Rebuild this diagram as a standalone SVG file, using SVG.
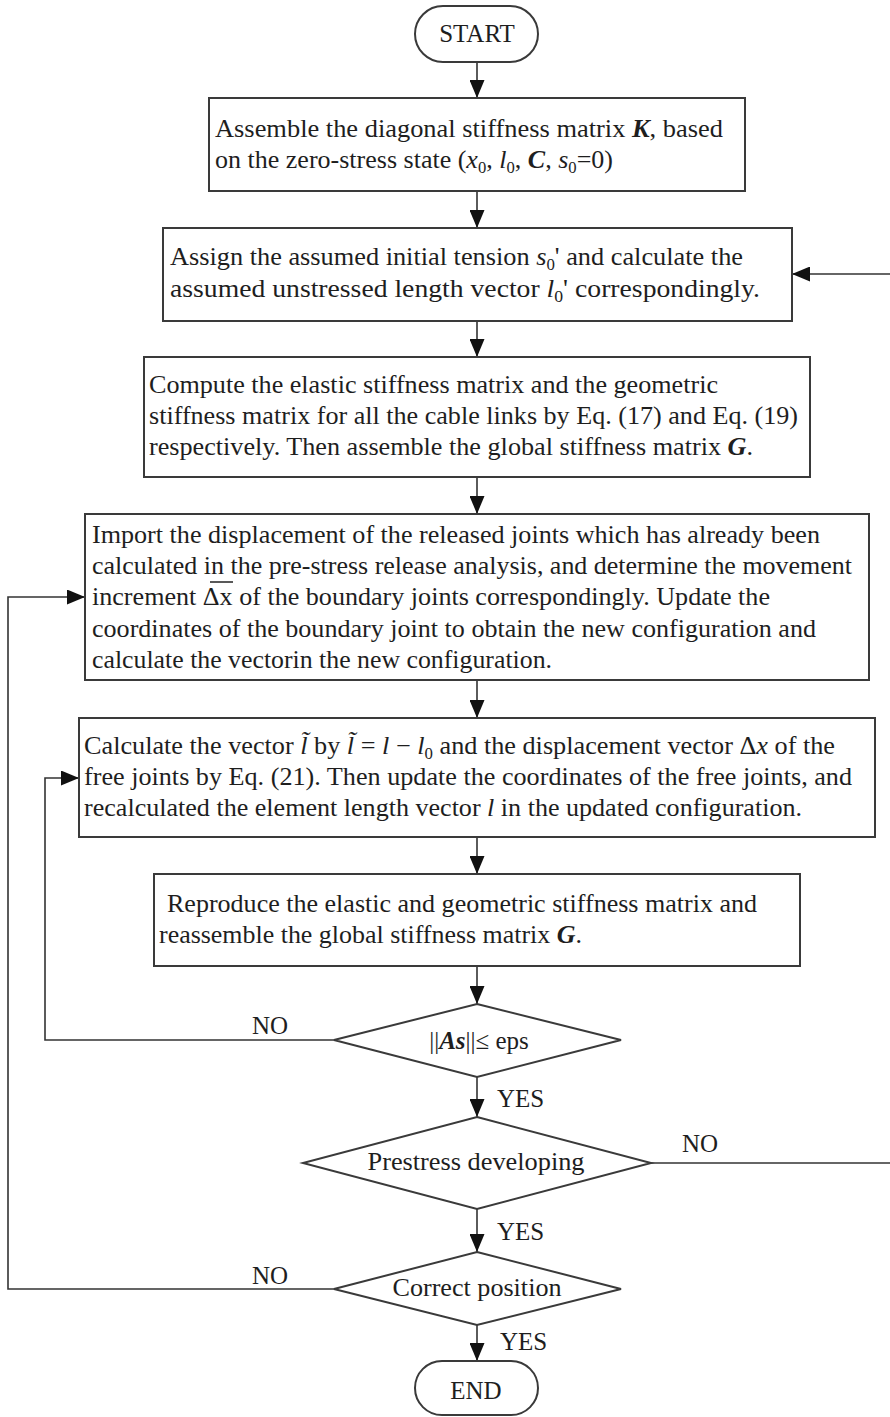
<svg xmlns="http://www.w3.org/2000/svg" width="890" height="1417" viewBox="0 0 890 1417">
<style>
.t{font-family:"Liberation Serif","Times New Roman",serif;font-size:25px;fill:#1e1e1e}
.c{text-anchor:middle}
.i{font-style:italic}
.bi{font-style:italic;font-weight:bold}
.sub{font-size:16px}
.box{fill:#fff;stroke:#3a3a3a;stroke-width:2}
.conn{fill:none;stroke:#333;stroke-width:1.6}
</style>
<defs>
<marker id="arr" markerUnits="userSpaceOnUse" viewBox="0 0 18 15" refX="18" refY="7.5" markerWidth="18" markerHeight="15" orient="auto">
<path d="M0 0 L18 7.5 L0 15 Z" fill="#111"/>
</marker>
</defs>
<rect width="890" height="1417" fill="#fff"/>

<g id="connectors">
<path class="conn" d="M477 62 V98" marker-end="url(#arr)"/>
<path class="conn" d="M477 191 V228" marker-end="url(#arr)"/>
<path class="conn" d="M477 321 V357" marker-end="url(#arr)"/>
<path class="conn" d="M477 477 V514" marker-end="url(#arr)"/>
<path class="conn" d="M477 680 V718" marker-end="url(#arr)"/>
<path class="conn" d="M477 837 V874" marker-end="url(#arr)"/>
<path class="conn" d="M477 966 V1004" marker-end="url(#arr)"/>
<path class="conn" d="M477 1077 V1117" marker-end="url(#arr)"/>
<path class="conn" d="M477 1209 V1252" marker-end="url(#arr)"/>
<path class="conn" d="M477 1325 V1361" marker-end="url(#arr)"/>
<path class="conn" d="M334 1040 H45 V778 H79" marker-end="url(#arr)"/>
<path class="conn" d="M334 1289 H8 V597 H85" marker-end="url(#arr)"/>
<path class="conn" d="M651 1163 H890"/>
<path class="conn" d="M890 274 H792" marker-end="url(#arr)"/>
<text class="t" x="252" y="1034">NO</text>
<text class="t" x="682" y="1152">NO</text>
<text class="t" x="252" y="1284">NO</text>
<text class="t" x="497" y="1107">YES</text>
<text class="t" x="497" y="1240">YES</text>
<text class="t" x="500" y="1350">YES</text>
</g>

<g id="start">
<rect class="box" x="415" y="6" width="123" height="56" rx="28"/>
<text class="t c" x="477" y="42">START</text>
</g>

<g id="box1">
<rect class="box" x="209" y="98" width="536" height="93"/>
<text class="t" x="215" y="137" textLength="508" lengthAdjust="spacingAndGlyphs">Assemble the diagonal stiffness matrix  <tspan class="bi">K</tspan>, based</text>
<text class="t" x="215" y="168" textLength="398" lengthAdjust="spacingAndGlyphs">on the zero-stress state (<tspan class="i">x</tspan><tspan class="sub" dy="5">0</tspan><tspan dy="-5">, </tspan><tspan class="i">l</tspan><tspan class="sub" dy="5">0</tspan><tspan dy="-5">, </tspan><tspan class="bi">C</tspan>, <tspan class="i">s</tspan><tspan class="sub" dy="5">0</tspan><tspan dy="-5">=0)</tspan></text>
</g>

<g id="box2">
<rect class="box" x="163" y="228" width="629" height="93"/>
<text class="t" x="170" y="265" textLength="573" lengthAdjust="spacingAndGlyphs">Assign the assumed initial tension <tspan class="i">s</tspan><tspan class="sub" dy="5">0</tspan><tspan dy="-5">' and calculate the</tspan></text>
<text class="t" x="170" y="297" textLength="590" lengthAdjust="spacingAndGlyphs">assumed unstressed length vector  <tspan class="i">l</tspan><tspan class="sub" dy="5">0</tspan><tspan dy="-5">' correspondingly.</tspan></text>
</g>

<g id="box3">
<rect class="box" x="144" y="357" width="666" height="120"/>
<text class="t" x="149" y="393" textLength="569" lengthAdjust="spacingAndGlyphs">Compute the elastic stiffness matrix and the geometric</text>
<text class="t" x="149" y="424" textLength="649" lengthAdjust="spacingAndGlyphs">stiffness matrix for all the cable links by Eq. (17) and Eq. (19)</text>
<text class="t" x="149" y="455" textLength="604" lengthAdjust="spacingAndGlyphs">respectively. Then assemble the global stiffness matrix <tspan class="bi">G</tspan>.</text>
</g>

<g id="box4">
<rect class="box" x="85" y="514" width="784" height="166"/>
<text class="t" x="92" y="543" textLength="728" lengthAdjust="spacingAndGlyphs">Import the displacement of the released joints which has already been</text>
<text class="t" x="92" y="574" textLength="760" lengthAdjust="spacingAndGlyphs">calculated in the pre-stress release analysis, and determine the movement</text>
<text class="t" x="92" y="605" textLength="678" lengthAdjust="spacingAndGlyphs">increment Δx of the boundary joints correspondingly. Update the</text>
<text class="t" x="92" y="637" textLength="724" lengthAdjust="spacingAndGlyphs">coordinates of the boundary joint to obtain the new configuration and</text>
<text class="t" x="92" y="668" textLength="460" lengthAdjust="spacingAndGlyphs">calculate the vectorin the new configuration.</text>
<line x1="210" y1="582" x2="233" y2="582" stroke="#222" stroke-width="1.5"/>
</g>

<g id="box5">
<rect class="box" x="79" y="718" width="796" height="119"/>
<text class="t" x="84" y="754" textLength="751" lengthAdjust="spacingAndGlyphs">Calculate the vector <tspan class="i">l&#x303;</tspan> by <tspan class="i">l&#x303;</tspan> = <tspan class="i">l</tspan> − <tspan class="i">l</tspan><tspan class="sub" dy="5">0</tspan><tspan dy="-5"> and the displacement vector Δ</tspan><tspan class="i">x</tspan> of the</text>
<text class="t" x="84" y="785" textLength="768" lengthAdjust="spacingAndGlyphs">free joints by Eq. (21). Then update the coordinates of the free joints, and</text>
<text class="t" x="84" y="816" textLength="718" lengthAdjust="spacingAndGlyphs">recalculated the element length vector <tspan class="i">l</tspan> in the updated configuration.</text>
</g>

<g id="box6">
<rect class="box" x="154" y="874" width="646" height="92"/>
<text class="t" x="167" y="912" textLength="590" lengthAdjust="spacingAndGlyphs">Reproduce the elastic and geometric stiffness matrix and</text>
<text class="t" x="159" y="943" textLength="423" lengthAdjust="spacingAndGlyphs">reassemble the global stiffness matrix <tspan class="bi">G</tspan>.</text>
</g>

<g id="decision1">
<polygon class="box" points="477,1004 621,1040 477,1077 334,1040"/>
<text class="t c" x="479" y="1049">||<tspan class="bi">As</tspan>||≤ eps</text>
</g>

<g id="decision2">
<polygon class="box" points="477,1117 651,1163 477,1209 303,1163"/>
<text class="t c" x="476" y="1170" textLength="217" lengthAdjust="spacingAndGlyphs">Prestress developing</text>
</g>

<g id="decision3">
<polygon class="box" points="477,1252 621,1289 477,1325 334,1289"/>
<text class="t c" x="477" y="1296" textLength="169" lengthAdjust="spacingAndGlyphs">Correct position</text>
</g>

<g id="end">
<rect class="box" x="415" y="1361" width="123" height="54" rx="27"/>
<text class="t c" x="476" y="1399">END</text>
</g>
</svg>
